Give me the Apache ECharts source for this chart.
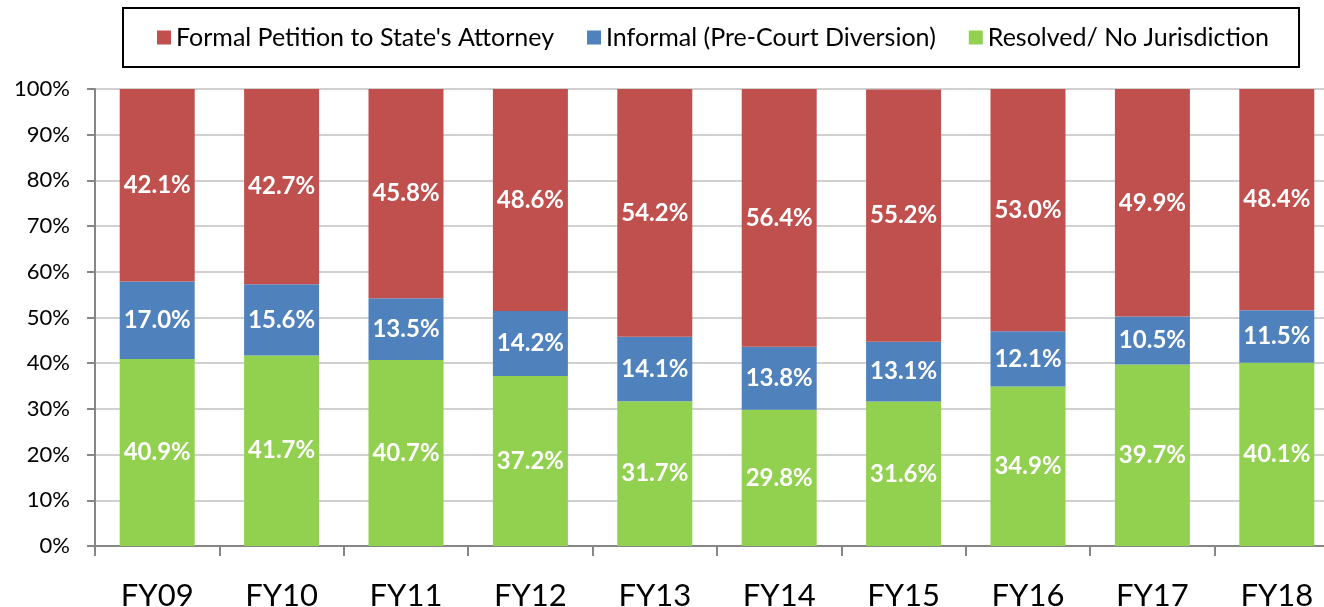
<!DOCTYPE html>
<html>
<head>
<meta charset="utf-8">
<script src="https://cdn.jsdelivr.net/npm/echarts@6/dist/echarts.min.js"></script>
<style>
  html, body { margin: 0; padding: 0; background: #fff; }
  #main { width: 1324px; height: 607px; }
</style>
</head>
<body>
<div id="main"></div>
<script>
var years = ['FY09', 'FY10', 'FY11', 'FY12', 'FY13', 'FY14', 'FY15', 'FY16', 'FY17', 'FY18'];
var resolved = [40.9, 41.7, 40.7, 37.2, 31.7, 29.8, 31.6, 34.9, 39.7, 40.1];
var informal = [17.0, 15.6, 13.5, 14.2, 14.1, 13.8, 13.1, 12.1, 10.5, 11.5];
var formal = [42.1, 42.7, 45.8, 48.6, 54.2, 56.4, 55.2, 53.0, 49.9, 48.4];

var chartDom = document.getElementById('main');
var myChart = echarts.init(chartDom);
var fontName = 'Lato';

var barLabel = {
    show: true,
    position: 'inside',
    color: '#fff',
    fontFamily: fontName,
    fontWeight: 'bold',
    fontSize: 24,
    formatter: function (d) {
        return d.value.toFixed(1) + '%';
    }
};

function makeSeries(name, data, color) {
    return {
        name: name,
        type: 'bar',
        stack: 'total',
        barWidth: 75,
        data: data,
        itemStyle: { color: color },
        label: barLabel,
        emphasis: { disabled: true }
    };
}

var option = {
    animation: false,
    textStyle: { fontFamily: fontName },
    legend: {
        left: 123,
        top: 8,
        padding: [17, 30, 17, 34],
        itemGap: 33,
        itemWidth: 14,
        itemHeight: 14,
        borderColor: '#000',
        borderWidth: 2,
        icon: 'rect',
        textStyle: { fontSize: 25, color: '#000', fontFamily: fontName },
        data: ["Formal Petition to State's Attorney", 'Informal (Pre-Court Diversion)', 'Resolved/ No Jurisdiction']
    },
    grid: {
        left: 95,
        top: 89,
        bottom: 61,
        width: 1244,
        outerBoundsMode: 'none'
    },
    xAxis: {
        type: 'category',
        data: years,
        axisLine: { lineStyle: { color: '#868686', width: 2 } },
        axisTick: { show: true, length: 10, lineStyle: { color: '#868686', width: 2 } },
        axisLabel: { fontSize: 31, color: '#000', margin: 34, fontFamily: fontName }
    },
    yAxis: {
        type: 'value',
        min: 0,
        max: 100,
        interval: 10,
        axisLine: { show: true, lineStyle: { color: '#868686', width: 2 } },
        axisTick: { show: true, length: 8, lineStyle: { color: '#868686', width: 2 } },
        axisLabel: { fontSize: 22, color: '#000', margin: 25, formatter: '{value}%', fontFamily: fontName },
        splitLine: { lineStyle: { color: '#d0d0d0', width: 2 } }
    },
    series: [
        makeSeries('Resolved/ No Jurisdiction', resolved, '#92D050'),
        makeSeries('Informal (Pre-Court Diversion)', informal, '#4F81BD'),
        makeSeries("Formal Petition to State's Attorney", formal, '#C0504D')
    ]
};

option && myChart.setOption(option);
</script>
</body>
</html>
